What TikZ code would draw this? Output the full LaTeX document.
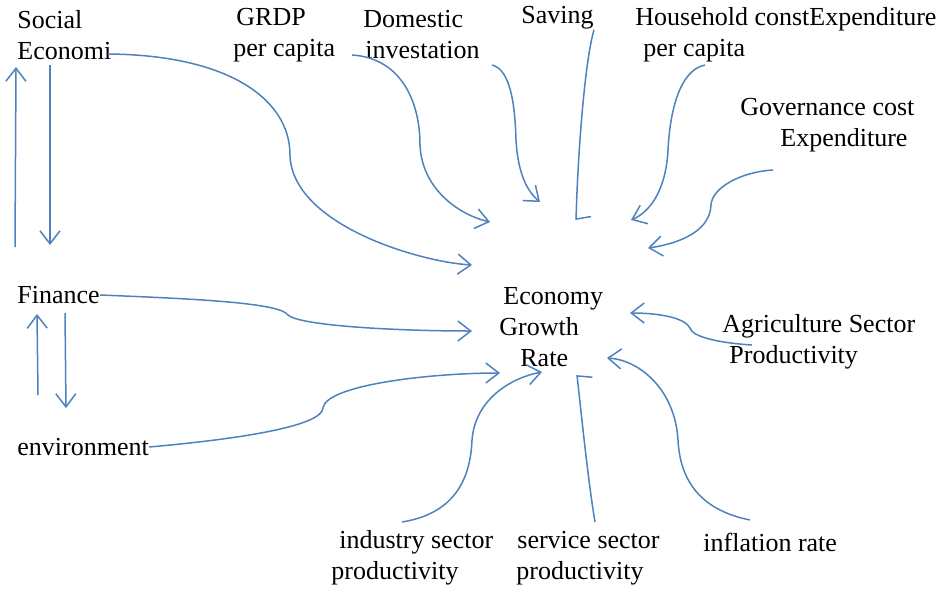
\documentclass[tikz,border=0pt]{standalone}
\usepackage{fontspec}
\setmainfont{Liberation Serif}
\usetikzlibrary{arrows.meta}
\definecolor{linkblue}{RGB}{79,129,189}

\begin{document}
\begin{tikzpicture}[x=0.5pt, y=-0.5pt,
  every node/.style={inner sep=0pt, anchor=west, align=left, font=\fontsize{13}{15.5}\selectfont},
  link/.style={draw=linkblue, line width=0.75pt, -{Straight Barb[length=6.5pt,width=10pt]}},
  halfl/.style={link, -{Straight Barb[harpoon,length=1.5pt,width=15pt]}},
  halfr/.style={link, -{Straight Barb[harpoon,swap,length=1.5pt,width=15pt]}}]
  \useasboundingbox (0,0) rectangle (948,590);

  \node (social) at (17,35) {Social\\Economi};
  \node (grdp) at (233,35) {\hspace*{1.5pt}GRDP\\per capita};
  \node (domestic) at (363,35) {Domestic\\\hspace*{1pt}investation};
  \node (saving) at (521,18) {Saving};
  \node (household) at (635,35) {Household constExpenditure\\\hspace*{4pt}per capita};
  \node (governance) at (740,125) {Governance cost\\\hspace*{20pt}Expenditure};
  \node (economy) at (499,327) {\hspace*{2pt}Economy\\Growth\\\hspace*{10.5pt}Rate};
  \node (finance) at (17,295) {Finance};
  \node (environment) at (17,447) {environment};
  \node (agriculture) at (722,342) {Agriculture Sector\\\hspace*{3.5pt}Productivity};
  \node (industry) at (331,558) {\hspace*{4pt}industry sector\\productivity};
  \node (service) at (516,558) {\hspace*{0.5pt}service sector\\productivity};
  \node (inflation) at (703,542) {inflation rate};

  % ends of the arrows round the growth rate
  \coordinate (e-social) at (472,265);
  \coordinate (e-grdp) at (490,222);
  \coordinate (e-domestic) at (540,202);
  \coordinate (e-saving) at (576,220);
  \coordinate (e-household) at (631,220);
  \coordinate (e-governance) at (648,248);
  \coordinate (e-agriculture) at (630,313);
  \coordinate (e-finance) at (472,331);
  \coordinate (e-environment) at (500,373);
  \coordinate (e-industry) at (542,372);
  \coordinate (e-service) at (577,375);
  \coordinate (e-inflation) at (607,358);

  % social <-> finance <-> environment
  \draw [link] (15,247) -- (16,67);
  \draw [link] (50,65) -- (50,245);
  \draw [link] (38,395) -- (37,314);
  \draw [link] (65,313) -- (66,408);

  % top row
  \draw [link] (108,54) .. controls (230,55) and (290,100) .. (290,155) .. controls (292,225) and (420,262) .. (e-social);
  \draw [link] (352,55) .. controls (400,58) and (420,100) .. (420,145) .. controls (422,190) and (460,215) .. (e-grdp);
  \draw [link] (492,65) .. controls (512,70) and (515,110) .. (516,140) .. controls (518,175) and (528,192) .. (e-domestic);
  \draw [halfl] (saving.south east) .. controls (585,60) and (578,150) .. (e-saving);
  \draw [link] (705,65) .. controls (680,70) and (670,110) .. (668,150) .. controls (666,190) and (650,212) .. (e-household);
  \draw [link] (773,170) .. controls (740,172) and (712,188) .. (711,205) .. controls (710,235) and (670,245) .. (e-governance);

  % left side
  \draw [link] (finance.east) .. controls (200,299) and (280,303) .. (288,315) .. controls (300,326) and (400,331) .. (e-finance);
  \draw [link] (environment.east) .. controls (250,438) and (322,425) .. (323,408) .. controls (326,385) and (430,373) .. (e-environment);

  % right side and bottom row
  \draw [link] (752,345) .. controls (720,343) and (692,337) .. (690,328) .. controls (685,318) and (660,313) .. (e-agriculture);
  \draw [link] (402,522) .. controls (445,515) and (470,490) .. (472,440) .. controls (475,400) and (510,378) .. (e-industry);
  \draw [halfr] (595,522) .. controls (588,480) and (582,420) .. (e-service);
  \draw [link] (750,520) .. controls (700,510) and (680,480) .. (678,440) .. controls (675,390) and (640,360) .. (e-inflation);
\end{tikzpicture}
\end{document}
